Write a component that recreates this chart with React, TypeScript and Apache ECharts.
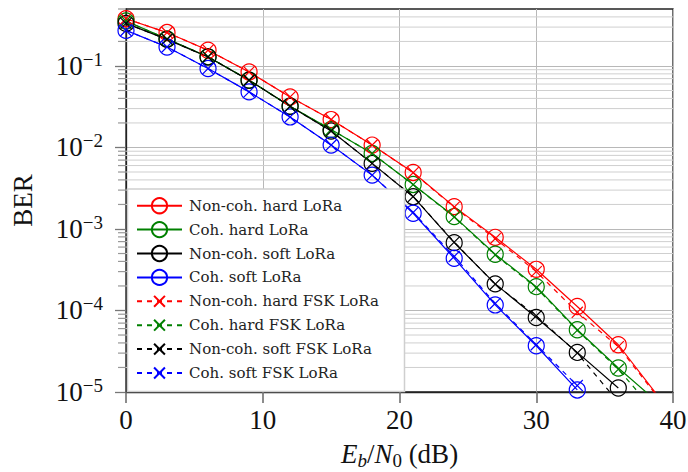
import React, { useEffect, useRef } from 'react';
import * as echarts from 'echarts';

// Eb/N0 (dB)
const snr = [0, 3, 6, 9, 12, 15, 18, 21, 24, 27, 30, 33, 36, 39];

// BER values
const nonCohHardLoRa = [0.38, 0.257, 0.156, 0.0845, 0.0417, 0.022, 0.0107, 0.00494, 0.00188, 7.9e-4, 3.2e-4, 1.12e-4, 3.8e-5, 8.5e-6];
const cohHardLoRa = [0.356, 0.215, 0.13, 0.067, 0.032, 0.0166, 0.00845, 0.00352, 0.00142, 4.9e-4, 1.96e-4, 5.8e-5, 1.97e-5, 7.2e-6];
const nonCohSoftLoRa = [0.333, 0.212, 0.129, 0.0668, 0.032, 0.0159, 0.00638, 0.00249, 6.8e-4, 2.12e-4, 8.2e-5, 3.06e-5, 1.12e-5];
const cohSoftLoRa = [0.273, 0.171, 0.093, 0.0481, 0.0237, 0.0107, 0.00458, 0.00156, 4.37e-4, 1.17e-4, 3.69e-5, 1.06e-5];

const nonCohHardFSK = [0.38, 0.257, 0.156, 0.0845, 0.0417, 0.022, 0.0107, 0.0049, 0.00185, 7.6e-4, 3.0e-4, 9.5e-5, 3.6e-5, 8.2e-6];
const cohHardFSK = [0.356, 0.215, 0.13, 0.067, 0.032, 0.0166, 0.00845, 0.0035, 0.0014, 4.8e-4, 1.9e-4, 5.7e-5, 1.9e-5, 5.0e-6];
const nonCohSoftFSK = [0.333, 0.212, 0.129, 0.0668, 0.032, 0.0159, 0.00638, 0.0025, 6.9e-4, 2.1e-4, 8.6e-5, 3.0e-5, 7.5e-6];
const cohSoftFSK = [0.273, 0.171, 0.093, 0.0481, 0.0237, 0.0107, 0.00458, 0.0016, 4.6e-4, 1.22e-4, 3.8e-5, 1.2e-5];

const seriesNames = [
  'Non-coh. hard LoRa',
  'Coh. hard LoRa',
  'Non-coh. soft LoRa',
  'Coh. soft LoRa',
  'Non-coh. hard FSK LoRa',
  'Coh. hard FSK LoRa',
  'Non-coh. soft FSK LoRa',
  'Coh. soft FSK LoRa',
];

// axis ticks
const xTicks = [0, 10, 20, 30, 40];
const yDecades = [-5, -4, -3, -2, -1];
const minorMantissas = [2, 3, 4, 5, 6, 7, 8, 9];
const berMin = 1e-5;
const berMax = 0.5;

const RED = '#ff0000';
const GREEN = '#008000';
const BLACK = '#000000';
const BLUE = '#0000ff';
// cross with invisible padding (move-to points) so the legend cross is a bit smaller
const CROSS = 'path://M-2,-2M0,0L10,10M10,0L0,10M12,12';

const SERIF = 'Liberation Serif';

function toData(vals: number[]) {
  return vals.map((v, i) => [snr[i], Math.log10(v)]);
}

function loRa(name: string, vals: number[], color: string) {
  return {
    name,
    type: 'line',
    data: toData(vals),
    symbol: 'circle',
    symbolSize: 16,
    clip: true,
    z: 2,
    lineStyle: { color, width: 1.2 },
    itemStyle: { color: 'rgba(0,0,0,0)', borderColor: color, borderWidth: 1.2 },
    emphasis: { disabled: true },
  };
}

function fsk(name: string, vals: number[], color: string) {
  return {
    name,
    type: 'line',
    data: toData(vals),
    symbol: CROSS,
    symbolSize: 15.5,
    clip: true,
    z: 2,
    lineStyle: { color, width: 1.2, type: [5, 5] },
    itemStyle: { color: 'rgba(0,0,0,0)', borderColor: color, borderWidth: 1.2 },
    emphasis: { disabled: true },
  };
}

export default function App() {
  const ref = useRef<HTMLDivElement>(null);

  useEffect(() => {
    if (!ref.current) return;
    const chart = echarts.init(ref.current, undefined, { renderer: 'svg' });

    const yMin = Math.log10(berMin);
    const yMax = Math.log10(berMax);
    const minorVals: number[] = [];
    yDecades.forEach((d) => {
      minorMantissas.forEach((m) => {
        const v = Math.log10(m) + d;
        if (v <= yMax + 1e-9) minorVals.push(v);
      });
    });

    const option: any = {
      animation: false,
      backgroundColor: '#ffffff',
      grid: {
        left: 126,
        top: 9,
        right: 15,
        bottom: 80,
        show: true,
        borderColor: '#222',
        borderWidth: 1.3,
        backgroundColor: 'transparent',
        containLabel: false,
        outerBoundsMode: 'none',
      },
      xAxis: {
        type: 'value',
        min: xTicks[0],
        max: xTicks[xTicks.length - 1],
        interval: 10,
        axisLine: { show: true, lineStyle: { color: '#222', width: 1.3 } },
        axisTick: { show: true, inside: false, length: 11, lineStyle: { color: '#666', width: 1.5 } },
        axisLabel: { fontFamily: SERIF, fontSize: 27, color: '#111', margin: 14, lineHeight: 27 },
        splitLine: { show: true, lineStyle: { color: '#b8b8b8', width: 1 } },
        name: '{i|E}{si|b}{n|/}{i|N}{s|0}{n| (dB)}',
        nameLocation: 'middle',
        nameGap: 46,
        nameTextStyle: {
          rich: {
            i: { fontFamily: SERIF, fontStyle: 'italic', fontSize: 27, lineHeight: 32, color: '#111' },
            n: { fontFamily: SERIF, fontSize: 27, lineHeight: 32, color: '#111' },
            si: { fontFamily: SERIF, fontStyle: 'italic', fontSize: 19, lineHeight: 19, verticalAlign: 'bottom', color: '#111' },
            s: { fontFamily: SERIF, fontSize: 19, lineHeight: 19, verticalAlign: 'bottom', color: '#111' },
          },
        },
      },
      yAxis: {
        type: 'value',
        min: yMin,
        max: yMax,
        interval: 1,
        axisLine: { show: true, lineStyle: { color: '#222', width: 1.3 } },
        axisTick: { show: true, inside: false, length: 11, lineStyle: { color: '#777', width: 1.3 }, customValues: yDecades },
        axisLabel: {
          customValues: yDecades,
          margin: 23,
          formatter: (v: number) => {
            const r = Math.round(v);
            if (Math.abs(v - r) > 1e-6) return '';
            return `{b|10}{s|\u2212${-r}}`;
          },
          rich: {
            b: { fontFamily: SERIF, fontSize: 27, lineHeight: 32, color: '#111' },
            s: { fontFamily: SERIF, fontSize: 19, lineHeight: 18, verticalAlign: 'top', color: '#111' },
          },
        },
        splitLine: { show: true, lineStyle: { color: '#b8b8b8', width: 1 } },
        name: 'BER',
        nameLocation: 'middle',
        nameGap: 90,
        nameRotate: 90,
        nameTextStyle: { fontFamily: SERIF, fontSize: 27, color: '#111' },
      },
      legend: {
        data: seriesNames,
        orient: 'vertical',
        left: 127,
        top: 189,
        padding: [7.2, 0, 0, 9],
        itemWidth: 45,
        itemHeight: 19,
        itemGap: 4.9,
        selectedMode: false,
        z: 6,
        textStyle: { fontFamily: 'DejaVu Serif', fontSize: 15, color: '#222', lineHeight: 19, padding: [0, 0, 0, 2] },
      },
      graphic: [
        {
          type: 'rect',
          silent: true,
          z: 3,
          shape: { x: 127.5, y: 189, width: 277, height: 202.5 },
          style: { fill: '#ffffff', stroke: '#cfcfcf', lineWidth: 1.5 },
        },
      ],
      series: [
        {
          type: 'custom',
          name: 'minorGrid',
          silent: true,
          z: 1,
          clip: false,
          data: minorVals.map((v) => [xTicks[0], v]),
          renderItem: (params: any, api: any) => {
            const v = api.value(1);
            const p0 = api.coord([xTicks[0], v]);
            const p1 = api.coord([xTicks[xTicks.length - 1], v]);
            const children: any[] = [
              {
                type: 'line',
                shape: { x1: p0[0] - 8, y1: p0[1], x2: p0[0], y2: p0[1] },
                style: { stroke: '#999', lineWidth: 1.2 },
              },
            ];
            if (v < yMax - 1e-6) {
              children.push({
                type: 'line',
                shape: { x1: p0[0], y1: p0[1], x2: p1[0], y2: p1[1] },
                style: { stroke: '#cfcfcf', lineWidth: 1 },
              });
            }
            return { type: 'group', children };
          },
        },
        loRa(seriesNames[0], nonCohHardLoRa, RED),
        loRa(seriesNames[1], cohHardLoRa, GREEN),
        loRa(seriesNames[2], nonCohSoftLoRa, BLACK),
        loRa(seriesNames[3], cohSoftLoRa, BLUE),
        fsk(seriesNames[4], nonCohHardFSK, RED),
        fsk(seriesNames[5], cohHardFSK, GREEN),
        fsk(seriesNames[6], nonCohSoftFSK, BLACK),
        fsk(seriesNames[7], cohSoftFSK, BLUE),
      ],
    };

    chart.setOption(option);
    return () => chart.dispose();
  }, []);

  return (
    <div
      ref={ref}
      style={{ position: 'fixed', left: 0, top: 0, width: 688, height: 472, background: '#fff' }}
    />
  );
}
